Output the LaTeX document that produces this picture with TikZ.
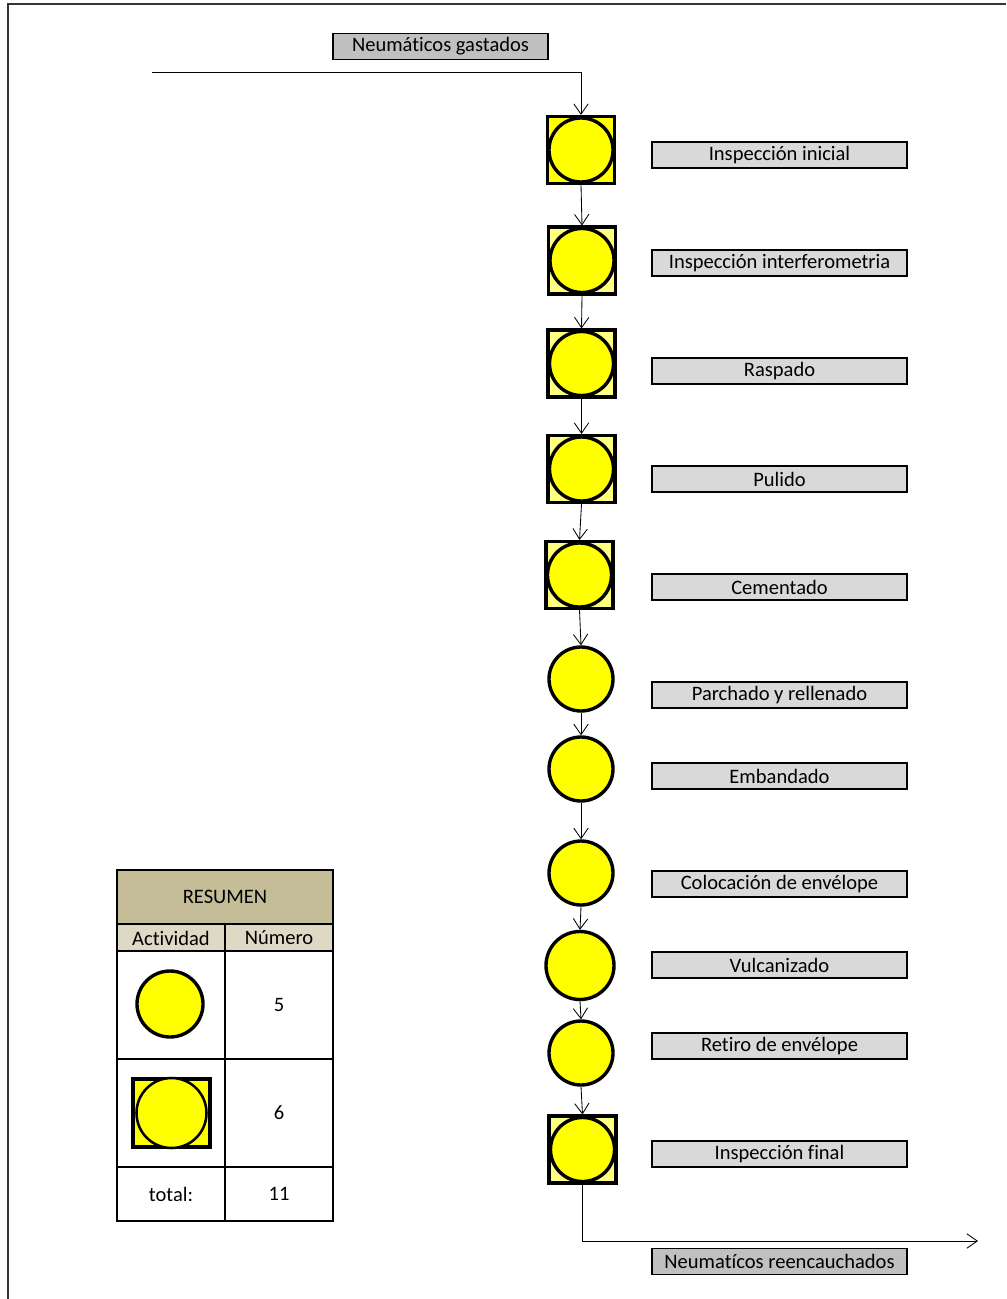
\documentclass[tikz,border=0pt]{standalone}
\usepackage{fontspec}
\setmainfont{Carlito}[Ligatures=NoCommon]
\usetikzlibrary{arrows.meta}
\usetikzlibrary{positioning}

\definecolor{opyellow}{HTML}{FFFF00}
\definecolor{sqyellow}{HTML}{FFFF80}
\definecolor{labelgray}{HTML}{D9D9D9}
\definecolor{flowgray}{HTML}{C0C0C0}
\definecolor{headtan}{HTML}{C4BD97}
\definecolor{subtan}{HTML}{DDD9C4}

\tikzset{
  opcircle/.style={circle, draw=black, line width=2.4pt, fill=opyellow, minimum size=64*0.025cm, inner sep=0pt},
  opsquare/.style={rectangle, draw=black, line width=2.2pt, fill=sqyellow, minimum size=67*0.025cm, inner sep=0pt},
  steplabel/.style={rectangle, draw=black, line width=1.3pt, fill=labelgray, minimum width=255*0.025cm, minimum height=26*0.025cm, inner sep=0pt, font=\fontsize{14.6}{16}\selectfont},
  flowlabel/.style={steplabel, fill=flowgray},
  flow/.style={-{Straight Barb[length=2.6mm,width=3.6mm]}, line width=0.6pt},
  cell/.style={font=\fontsize{14.6}{16}\selectfont}
}

\begin{document}
\begin{tikzpicture}[x=0.025cm, y=-0.025cm]
    \useasboundingbox (0, 0) rectangle (1006, 1299);
    % outer frame
    \draw[line width=1.3pt, black!80] (8, 1299) -- (8, 4) -- (1006, 4);

    % input
    \node[flowlabel, minimum width=215*0.025cm] (entrada) at (440.5, 46.5) {Neumáticos gastados};
    \coordinate (inicio) at (152, 72);

    % process symbols
    \node[opsquare, fill=opyellow] (s1) at (581, 150) {};
    \node[opcircle] (c1) at (s1) {};
    \node[opsquare] (s2) at (582, 260.5) {};
    \node[opcircle] (c2) at (s2) {};
    \node[opsquare] (s3) at (581.5, 363.5) {};
    \node[opcircle] (c3) at (s3) {};
    \node[opsquare] (s4) at (581.5, 469) {};
    \node[opcircle] (c4) at (s4) {};
    \node[opsquare] (s5) at (579.5, 575) {};
    \node[opcircle] (c5) at (s5) {};
    \node[opcircle] (c6) at (581, 679) {};
    \node[opcircle] (c7) at (581, 769) {};
    \node[opcircle] (c8) at (581, 873) {};
    \node[opcircle, minimum size=68*0.025cm] (c9) at (580, 965.5) {};
    \node[opcircle] (c10) at (581, 1053) {};
    \node[opsquare] (s11) at (582.5, 1149.5) {};
    \node[opcircle] (c11) at (s11) {};

    % step labels
    \node[steplabel] (l1) at (779.5, 155) {Inspección inicial};
    \node[steplabel] (l2) at (779.5, 263) {Inspección interferometria};
    \node[steplabel] (l3) at (779.5, 371) {Raspado};
    \node[steplabel] (l4) at (779.5, 479) {Pulido};
    \node[steplabel] (l5) at (779.5, 587) {Cementado};
    \node[steplabel] (l6) at (779.5, 695) {Parchado y rellenado};
    \node[steplabel] (l7) at (779.5, 776) {Embandado};
    \node[steplabel] (l8) at (779.5, 884) {Colocación de envélope};
    \node[steplabel] (l9) at (779.5, 965) {Vulcanizado};
    \node[steplabel] (l10) at (779.5, 1046) {Retiro de envélope};
    \node[steplabel] (l11) at (779.5, 1154) {Inspección final};

    % output
    \node[flowlabel] (salida) at (779.5, 1261.5) {Neumatícos reencauchados};
    \coordinate (fin) at (978, 1241);

    % connectors
    \draw[flow] (inicio) -| (s1.north);
    \draw[flow] (s1.south) -- (s2.north);
    \draw[flow] (s2.south) -- (s3.north);
    \draw[flow] (s3.south) -- (s4.north);
    \draw[flow] (s4.south) -- (s5.north);
    \draw[flow] (s5.south) -- (c6.north);
    \draw[flow] (c6.south) -- (c7.north);
    \draw[flow] (c7.south) -- (c8.north);
    \draw[flow] (c8.south) -- (c9.north);
    \draw[flow] (c9.south) -- (c10.north);
    \draw[flow] (c10.south) -- (s11.north);
    \draw[flow] (s11.south) |- (fin);

    % summary table
    \fill[headtan] (117, 870) rectangle (333, 924);
    \fill[subtan] (117, 924) rectangle (333, 951);
    \draw[line width=1.1pt] (117, 870) rectangle (333, 1221);
    \draw[line width=1.1pt] (117, 924) -- (333, 924);
    \draw[line width=1.1pt] (117, 951) -- (333, 951);
    \draw[line width=1.1pt] (117, 1059) -- (333, 1059);
    \draw[line width=1.1pt] (117, 1167) -- (333, 1167);
    \draw[line width=1.1pt] (225, 924) -- (225, 1221);
    \node[cell] (resumen) at (225, 897) {RESUMEN};
    \node[cell] (actividad) at (171, 938) {Actividad};
    \node[cell] (numero) at (279, 938) {Número};
    \node[opcircle, minimum size=66*0.025cm] (tc) at (170, 1004) {};
    \node[cell] (n5) at (279, 1005) {5};
    \node[opsquare, fill=opyellow, minimum width=77*0.025cm, minimum height=68*0.025cm] (ts) at (171.5, 1113) {};
    \node[circle, draw=black, line width=1.8pt, fill=opyellow, minimum size=70*0.025cm, inner sep=0pt] (tsc) at (ts) {};
    \node[cell] (n6) at (279, 1113) {6};
    \node[cell] (total) at (171, 1194) {total:};
    \node[cell] (n11) at (279, 1194) {11};
\end{tikzpicture}
\end{document}
